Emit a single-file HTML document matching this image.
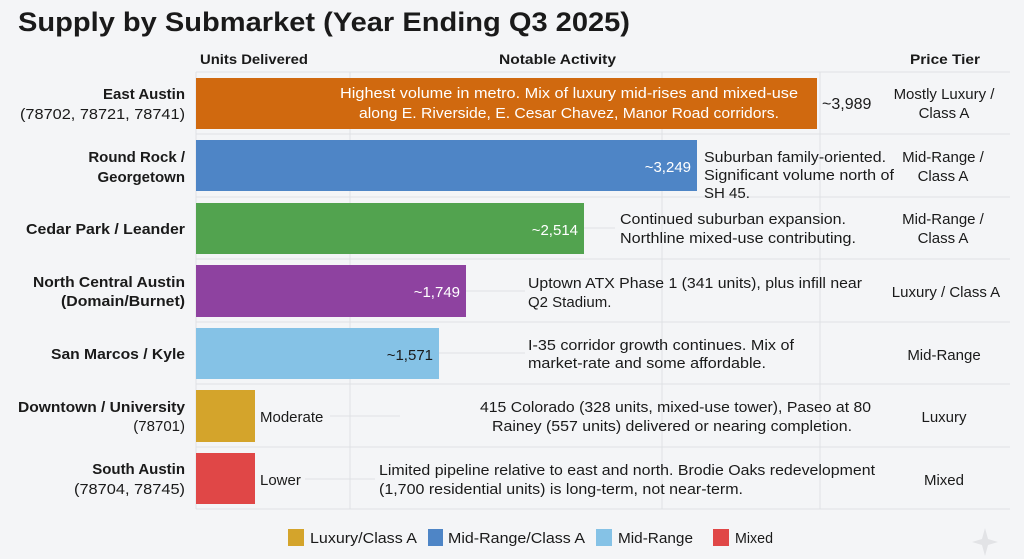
<!DOCTYPE html>
<html><head><meta charset="utf-8"><style>
html,body{margin:0;padding:0;background:#f4f5f7;}
svg{display:block}
text{font-family:"Liberation Sans",sans-serif;fill:#1a1a1a}
.b{font-weight:bold}
.w{fill:#fff}
.g{stroke:#dfe1e4;stroke-width:1}
</style></head><body>
<svg width="1024" height="559" viewBox="0 0 1024 559" xmlns="http://www.w3.org/2000/svg">
<rect width="1024" height="559" fill="#f4f5f7"/>
<text x="18" y="31" class="b" font-size="27" textLength="612" lengthAdjust="spacingAndGlyphs">Supply by Submarket (Year Ending Q3 2025)</text>
<text x="200" y="64" class="b" font-size="14" textLength="108" lengthAdjust="spacingAndGlyphs">Units Delivered</text>
<text x="499" y="64" class="b" font-size="14" textLength="117" lengthAdjust="spacingAndGlyphs">Notable Activity</text>
<text x="910" y="64" class="b" font-size="14" textLength="70" lengthAdjust="spacingAndGlyphs">Price Tier</text>
<g class="g">
<line x1="196" y1="72" x2="1010" y2="72"/><line x1="196" y1="134" x2="1010" y2="134"/>
<line x1="196" y1="197" x2="1010" y2="197"/><line x1="196" y1="259" x2="1010" y2="259"/>
<line x1="196" y1="322" x2="1010" y2="322"/><line x1="196" y1="384" x2="1010" y2="384"/>
<line x1="196" y1="447" x2="1010" y2="447"/><line x1="196" y1="509" x2="1010" y2="509"/>
<line x1="196" y1="72" x2="196" y2="509"/><line x1="350" y1="72" x2="350" y2="509"/>
<line x1="662" y1="72" x2="662" y2="509"/><line x1="820" y1="72" x2="820" y2="509"/>
</g>
<g class="g">
<line x1="466" y1="291" x2="525" y2="291"/><line x1="439" y1="353" x2="525" y2="353"/>
<line x1="330" y1="416" x2="400" y2="416"/><line x1="305" y1="479" x2="375" y2="479"/>
<line x1="584" y1="228" x2="615" y2="228"/>
</g>
<rect x="196" y="78" width="621" height="51" fill="#d0690f"/>
<rect x="196" y="140" width="501" height="51" fill="#4e85c6"/>
<rect x="196" y="203" width="388" height="51" fill="#52a34f"/>
<rect x="196" y="265" width="270" height="52" fill="#8e42a0"/>
<rect x="196" y="328" width="243" height="51" fill="#85c2e6"/>
<rect x="196" y="390" width="59" height="52" fill="#d4a42b"/>
<rect x="196" y="453" width="59" height="51" fill="#e04747"/>
<g font-size="15" text-anchor="end">
<text x="185" y="99" class="b">East Austin</text>
<text x="185" y="119" textLength="165" lengthAdjust="spacingAndGlyphs">(78702, 78721, 78741)</text>
<text x="185" y="162" class="b">Round Rock /</text>
<text x="185" y="182" class="b">Georgetown</text>
<text x="185" y="234" class="b" textLength="159" lengthAdjust="spacingAndGlyphs">Cedar Park / Leander</text>
<text x="185" y="287" class="b" textLength="152" lengthAdjust="spacingAndGlyphs">North Central Austin</text>
<text x="185" y="306" class="b" textLength="124" lengthAdjust="spacingAndGlyphs">(Domain/Burnet)</text>
<text x="185" y="359" class="b" textLength="134" lengthAdjust="spacingAndGlyphs">San Marcos / Kyle</text>
<text x="185" y="412" class="b" textLength="167" lengthAdjust="spacingAndGlyphs">Downtown / University</text>
<text x="185" y="431">(78701)</text>
<text x="185" y="474" class="b">South Austin</text>
<text x="185" y="494" textLength="111" lengthAdjust="spacingAndGlyphs">(78704, 78745)</text>
</g>
<g font-size="15">
<text x="340" y="98" class="w" textLength="458" lengthAdjust="spacingAndGlyphs">Highest volume in metro. Mix of luxury mid-rises and mixed-use</text>
<text x="359" y="118" class="w" textLength="420" lengthAdjust="spacingAndGlyphs">along E. Riverside, E. Cesar Chavez, Manor Road corridors.</text>
<text x="822" y="109" font-size="16">~3,989</text>
<text x="691" y="172" class="w" text-anchor="end">~3,249</text>
<text x="578" y="235" class="w" text-anchor="end">~2,514</text>
<text x="460" y="297" class="w" text-anchor="end">~1,749</text>
<text x="433" y="360" text-anchor="end">~1,571</text>
<text x="260" y="422">Moderate</text>
<text x="260" y="485">Lower</text>
</g>
<g font-size="15">
<text x="704" y="162" textLength="182" lengthAdjust="spacingAndGlyphs">Suburban family-oriented.</text>
<text x="704" y="180" textLength="190" lengthAdjust="spacingAndGlyphs">Significant volume north of</text>
<text x="704" y="198">SH 45.</text>
<text x="620" y="224" textLength="226" lengthAdjust="spacingAndGlyphs">Continued suburban expansion.</text>
<text x="620" y="243" textLength="236" lengthAdjust="spacingAndGlyphs">Northline mixed-use contributing.</text>
<text x="528" y="288" textLength="334" lengthAdjust="spacingAndGlyphs">Uptown ATX Phase 1 (341 units), plus infill near</text>
<text x="528" y="307">Q2 Stadium.</text>
<text x="528" y="350" textLength="266" lengthAdjust="spacingAndGlyphs">I-35 corridor growth continues. Mix of</text>
<text x="528" y="368" textLength="238" lengthAdjust="spacingAndGlyphs">market-rate and some affordable.</text>
<text x="480" y="412" textLength="391" lengthAdjust="spacingAndGlyphs">415 Colorado (328 units, mixed-use tower), Paseo at 80</text>
<text x="492" y="431" textLength="360" lengthAdjust="spacingAndGlyphs">Rainey (557 units) delivered or nearing completion.</text>
<text x="379" y="475" textLength="496" lengthAdjust="spacingAndGlyphs">Limited pipeline relative to east and north. Brodie Oaks redevelopment</text>
<text x="379" y="494" textLength="364" lengthAdjust="spacingAndGlyphs">(1,700 residential units) is long-term, not near-term.</text>
</g>
<g font-size="15" text-anchor="middle">
<text x="944" y="99">Mostly Luxury /</text>
<text x="944" y="118">Class A</text>
<text x="943" y="162">Mid-Range /</text>
<text x="943" y="181">Class A</text>
<text x="943" y="224">Mid-Range /</text>
<text x="943" y="243">Class A</text>
<text x="946" y="297">Luxury / Class A</text>
<text x="944" y="360">Mid-Range</text>
<text x="944" y="422">Luxury</text>
<text x="944" y="485">Mixed</text>
</g>
<g font-size="15">
<rect x="288" y="529" width="16" height="17" fill="#d4a42b"/>
<text x="310" y="543" textLength="107" lengthAdjust="spacingAndGlyphs">Luxury/Class A</text>
<rect x="428" y="529" width="15" height="17" fill="#4e85c6"/>
<text x="448" y="543" textLength="137" lengthAdjust="spacingAndGlyphs">Mid-Range/Class A</text>
<rect x="596" y="529" width="16" height="17" fill="#85c2e6"/>
<text x="618" y="543" textLength="75" lengthAdjust="spacingAndGlyphs">Mid-Range</text>
<rect x="713" y="529" width="16" height="17" fill="#e04747"/>
<text x="735" y="543" textLength="38" lengthAdjust="spacingAndGlyphs">Mixed</text>
</g>
<path d="M985 528 L988 539 L998 542 L988 545 L985 556 L982 545 L972 542 L982 539 Z" fill="#e2e3e6"/>
</svg>
</body></html>
